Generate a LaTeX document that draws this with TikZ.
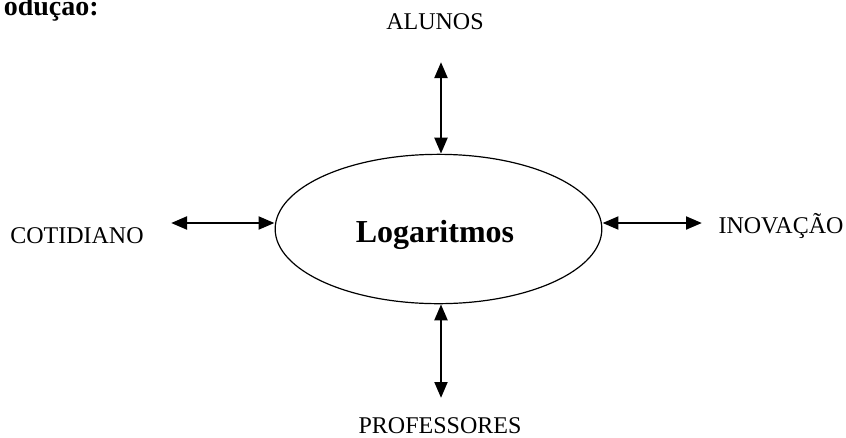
\documentclass[tikz,border=0pt]{standalone}
\usepackage{fontspec}
\setmainfont{Liberation Serif}
\usepackage{tikz}
\usetikzlibrary{arrows.meta,positioning,shapes.geometric}

\begin{document}
\begin{tikzpicture}[x=0.75pt, y=-0.75pt, every node/.style={font=\fontsize{18}{20}\selectfont, inner sep=0pt}, link/.style={{Triangle[length=12pt,width=9.5pt]}-{Triangle[length=12pt,width=9.5pt]}, line width=2.2pt}, topic/.style={anchor=base}]
\useasboundingbox (0,0) rectangle (846,437);
\node[anchor=base east, font=\bfseries\fontsize{21}{24}\selectfont] (intro) at (99,15) {odução:};
\node[draw, ellipse, line width=0.9pt, minimum width=245pt, minimum height=112pt] (log) at (438.5,229) {};
\node[topic, font=\bfseries\fontsize{24}{26}\selectfont] (logtext) at (435,242) {Logaritmos};
\node[topic] (alunos) at (435,29) {ALUNOS};
\node[topic] (cotidiano) at (77,243) {COTIDIANO};
\node[topic] (inovacao) at (781,233) {INOVAÇÃO};
\node[topic] (professores) at (440,433) {PROFESSORES};
\coordinate (topEnd) at (441,62);
\coordinate (leftEnd) at (171,223);
\coordinate (rightEnd) at (702,223);
\coordinate (botEnd) at (441,398);
\draw[link] (topEnd) -- (topEnd |- log.north);
\draw[link] (leftEnd) -- (leftEnd -| log.west);
\draw[link] (log.east |- rightEnd) -- (rightEnd);
\draw[link] (botEnd |- log.south) -- (botEnd);
\end{tikzpicture}
\end{document}
